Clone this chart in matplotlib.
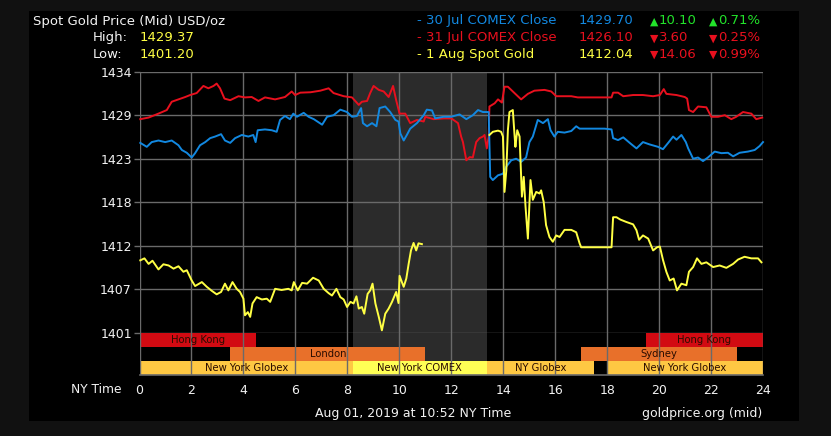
import matplotlib
matplotlib.use("Agg")
import matplotlib.pyplot as plt
from matplotlib.patches import Rectangle

# ---------------- data ----------------
red_h = [0.03, 0.35, 0.73, 1.05, 1.24, 1.5, 1.76, 1.95, 2.2, 2.46, 2.65, 2.85, 2.97, 3.1, 3.27, 3.49,
         3.81, 4.06, 4.32, 4.58, 4.83, 5.22, 5.6, 5.86, 5.99, 6.19, 6.58, 6.96, 7.28, 7.47, 7.86, 8.18,
         8.44, 8.56, 8.76, 8.88, 9.01, 9.21, 9.4, 9.59, 9.76, 9.88, 10.01, 10.23, 10.42, 10.68, 10.94,
         11.0, 11.32, 11.71, 12.0, 12.26, 12.38, 12.45, 12.58, 12.71, 12.83, 12.96, 13.09, 13.22, 13.28,
         13.37, 13.44, 13.47, 13.67, 13.8, 13.95, 14.05, 14.18, 14.37, 14.69, 14.95, 15.2, 15.59, 15.85,
         16.04, 16.36, 16.62, 16.87, 17.9, 18.17, 18.23, 18.42, 18.62, 19.0, 19.38, 19.77, 20.03, 20.18,
         20.28, 20.67, 20.99, 21.08, 21.15, 21.31, 21.5, 21.82, 22.01, 22.27, 22.53, 22.78, 22.97, 23.23,
         23.55, 23.74, 23.97]
red_p = [1428.2, 1428.4, 1428.9, 1429.35, 1430.4, 1430.7, 1431.0, 1431.25, 1431.5, 1432.4, 1432.1, 1432.4,
         1432.7, 1432.1, 1430.8, 1430.6, 1431.1, 1430.95, 1431.0, 1430.5, 1430.95, 1430.7, 1431.0, 1431.7,
         1431.25, 1431.55, 1431.6, 1431.8, 1432.1, 1431.5, 1431.1, 1430.95, 1430.0, 1430.4, 1430.5, 1431.5,
         1432.4, 1431.9, 1431.7, 1431.0, 1432.4, 1430.6, 1428.9, 1428.9, 1427.7, 1428.1, 1427.9, 1428.5,
         1428.2, 1428.3, 1428.3, 1427.7, 1426.0, 1425.3, 1423.0, 1423.4, 1423.35, 1425.3, 1425.8, 1426.0,
         1426.2, 1424.5, 1426.0, 1429.8, 1430.2, 1430.7, 1430.3, 1432.3, 1432.3, 1431.7, 1430.7, 1431.4,
         1431.8, 1431.9, 1431.7, 1431.1, 1431.1, 1431.1, 1430.95, 1430.95, 1430.95, 1431.55, 1431.55,
         1431.1, 1431.25, 1431.25, 1431.1, 1431.25, 1432.0, 1431.4, 1431.25, 1431.0, 1430.8, 1429.35,
         1429.1, 1429.8, 1429.7, 1428.5, 1428.5, 1428.7, 1428.2, 1428.5, 1429.1, 1428.9, 1428.2, 1428.4]

blue_h = [0.03, 0.28, 0.47, 0.73, 0.99, 1.24, 1.5, 1.63, 1.82, 2.01, 2.14, 2.33, 2.53, 2.72, 2.91, 3.14,
          3.29, 3.49, 3.68, 3.94, 4.19, 4.38, 4.47, 4.55, 4.83, 5.09, 5.28, 5.41, 5.6, 5.79, 5.92, 6.06,
          6.32, 6.51, 6.71, 7.03, 7.22, 7.47, 7.73, 7.99, 8.18, 8.37, 8.53, 8.6, 8.76, 8.95, 9.12, 9.24,
          9.46, 9.65, 9.85, 9.97, 10.04, 10.17, 10.29, 10.42, 10.68, 10.94, 11.06, 11.26, 11.38, 11.71,
          12.0, 12.32, 12.58, 12.83, 13.03, 13.22, 13.44, 13.5, 13.6, 13.8, 13.99, 14.12, 14.31, 14.5,
          14.69, 14.88, 15.01, 15.14, 15.33, 15.53, 15.72, 15.82, 15.97, 16.1, 16.36, 16.62, 16.81, 16.94,
          17.9, 18.17, 18.23, 18.42, 18.62, 18.87, 19.13, 19.38, 19.64, 19.96, 20.15, 20.35, 20.54, 20.67,
          20.86, 21.03, 21.12, 21.31, 21.5, 21.69, 21.88, 22.14, 22.4, 22.65, 22.85, 23.1, 23.42, 23.68,
          23.87, 24.0]
blue_p = [1425.2, 1424.7, 1425.3, 1425.5, 1425.3, 1425.5, 1424.9, 1424.3, 1423.95, 1423.35, 1423.9, 1424.9,
          1425.3, 1425.8, 1426.0, 1426.3, 1425.5, 1425.2, 1425.8, 1426.2, 1426.0, 1426.2, 1425.3, 1426.8,
          1426.9, 1426.8, 1426.6, 1428.1, 1428.6, 1428.2, 1428.9, 1428.5, 1429.0, 1428.5, 1428.2, 1427.5,
          1428.5, 1428.7, 1429.4, 1429.1, 1428.5, 1428.6, 1429.6, 1427.7, 1427.3, 1427.7, 1427.3, 1429.6,
          1429.8, 1429.1, 1428.1, 1427.9, 1426.4, 1425.5, 1426.2, 1427.0, 1427.7, 1428.7, 1429.4, 1429.3,
          1428.3, 1428.5, 1428.5, 1428.8, 1428.2, 1428.7, 1429.35, 1429.1, 1429.1, 1420.9, 1420.5, 1421.1,
          1421.3, 1422.2, 1423.0, 1423.2, 1422.8, 1423.35, 1425.3, 1426.0, 1428.1, 1427.7, 1428.2, 1426.8,
          1426.0, 1426.6, 1426.5, 1426.7, 1427.3, 1427.0, 1427.0, 1426.9, 1425.8, 1425.55, 1425.9, 1425.2,
          1424.5, 1425.3, 1425.0, 1424.7, 1424.4, 1425.2, 1426.0, 1425.6, 1426.2, 1425.3, 1424.5, 1423.2,
          1423.35, 1422.9, 1423.35, 1424.1, 1423.9, 1423.95, 1423.5, 1423.95, 1424.1, 1424.3, 1424.8, 1425.3]

yellow1_h = [0.03, 0.19, 0.35, 0.5, 0.73, 0.92, 1.12, 1.31, 1.5, 1.69, 1.82, 2.01, 2.14, 2.4, 2.59, 2.78,
             2.97, 3.14, 3.29, 3.42, 3.58, 3.74, 3.87, 4.0, 4.06, 4.17, 4.26, 4.35, 4.51, 4.71, 4.9, 5.03,
             5.22, 5.47, 5.73, 5.86, 5.94, 6.09, 6.26, 6.45, 6.68, 6.9, 7.09, 7.28, 7.41, 7.58, 7.73, 7.86,
             7.99, 8.12, 8.24, 8.35, 8.44, 8.56, 8.65, 8.78, 8.88, 8.97, 9.08, 9.21, 9.33, 9.46, 9.59, 9.72,
             9.88, 9.97, 10.01, 10.1, 10.17, 10.27, 10.36, 10.45, 10.55, 10.65, 10.74, 10.87]
yellow1_p = [1410.35, 1410.6, 1409.9, 1410.3, 1409.2, 1409.85, 1409.7, 1409.3, 1409.6, 1408.9, 1409.1,
             1407.8, 1407.1, 1407.6, 1407.0, 1406.5, 1406.05, 1406.35, 1407.4, 1406.55, 1407.6, 1406.75,
             1406.35, 1405.5, 1403.4, 1403.8, 1403.2, 1404.9, 1405.7, 1405.4, 1405.5, 1405.1, 1406.75,
             1406.6, 1406.75, 1406.55, 1407.6, 1406.55, 1407.5, 1407.4, 1408.15, 1407.8, 1406.75, 1406.2,
             1405.9, 1406.75, 1405.7, 1405.4, 1404.45, 1405.1, 1404.9, 1405.8, 1404.25, 1404.45, 1403.6,
             1406.1, 1406.55, 1407.4, 1404.9, 1403.2, 1401.5, 1403.6, 1404.25, 1405.1, 1406.35, 1404.95,
             1408.4, 1407.6, 1407.0, 1408.05, 1409.9, 1411.6, 1412.55, 1411.6, 1412.5, 1412.4]

yellow2_h = [13.47, 13.6, 13.8, 13.92, 13.99, 14.05, 14.12, 14.18, 14.24, 14.37, 14.44, 14.47, 14.54, 14.63,
             14.72, 14.79, 14.86, 14.95, 15.05, 15.14, 15.27, 15.4, 15.46, 15.56, 15.65, 15.78, 15.91, 16.04,
             16.17, 16.36, 16.62, 16.81, 16.94, 17.0, 17.9, 18.17, 18.23, 18.36, 18.51, 18.74, 19.0, 19.13,
             19.23, 19.38, 19.58, 19.77, 19.92, 20.03, 20.15, 20.28, 20.41, 20.56, 20.69, 20.86, 21.05,
             21.15, 21.31, 21.46, 21.63, 21.82, 22.08, 22.33, 22.59, 22.85, 23.04, 23.29, 23.55, 23.81, 23.94]
yellow2_p = [1426.2, 1426.6, 1426.75, 1426.6, 1426.0, 1419.0, 1421.75, 1426.8, 1429.1, 1429.35, 1426.0,
             1424.7, 1426.8, 1426.0, 1418.4, 1420.9, 1417.1, 1413.1, 1420.5, 1418.0, 1419.0, 1418.8, 1419.2,
             1417.7, 1414.8, 1413.3, 1412.7, 1413.5, 1413.3, 1414.2, 1414.2, 1413.9, 1412.5, 1412.0, 1412.0,
             1412.0, 1415.8, 1415.8, 1415.5, 1415.2, 1414.9, 1414.15, 1412.95, 1413.5, 1413.1, 1411.6, 1412.0,
             1412.1, 1410.4, 1408.9, 1407.8, 1408.05, 1406.55, 1407.4, 1407.2, 1408.9, 1409.5, 1410.6,
             1409.9, 1410.1, 1409.5, 1409.7, 1409.4, 1409.9, 1410.45, 1410.8, 1410.6, 1410.6, 1410.1]

y_ticks = [1401.2, 1406.7, 1412.2, 1417.7, 1423.2, 1428.7, 1434.2]
x_ticks = [0, 2, 4, 6, 8, 10, 12, 14, 16, 18, 20, 22, 24]

# sessions (row 2 = top)
session_labels = ["Hong Kong", "Hong Kong", "London", "Sydney",
                  "New York Globex", "New York COMEX", "NY Globex", "New York Globex"]
session_rows = [2, 2, 1, 1, 0, 0, 0, 0]
session_start = [0.0, 19.5, 3.5, 17.0, 0.0, 8.21, 13.37, 18.0]
session_end = [4.5, 24.0, 11.0, 23.0, 8.21, 13.37, 17.48, 24.0]
session_colors = ["#d20a12", "#d20a12", "#e8702a", "#e8702a",
                  "#fec843", "#ffff55", "#fec843", "#fec843"]
comex_span = (8.21, 13.37)

header_series = ["30 Jul COMEX Close", "31 Jul COMEX Close", "1 Aug Spot Gold"]
header_values = ["1429.70", "1426.10", "1412.04"]
header_up = [True, False, False]
header_change = ["10.10", "3.60", "14.06"]
header_pct = ["0.71%", "0.25%", "0.99%"]
high_value = "1429.37"
low_value = "1401.20"

# ---------------- style ----------------
W, H = 831, 436
RED = "#e8101e"
BLUE = "#1288e0"
YEL = "#ffff44"
GRN = "#22e22a"
GRID = "#6a6a6a"
TXT = "#f2f2f2"

fig = plt.figure(figsize=(W / 100, H / 100), dpi=100, facecolor="#111111")
fig.patches.append(Rectangle((29 / W, 1 - 421 / H), (799 - 29) / W, (421 - 11) / H,
                             transform=fig.transFigure, facecolor="black", edgecolor="none", zorder=-10))

def fx(px):
    return px / W

def fy(py):
    return 1 - py / H

x0, x1 = 139.5, 763.0
ytop, ymid, ybot = 71.7, 332.7, 375.0

ax = fig.add_axes([fx(x0), fy(ymid), (x1 - x0) / W, (ymid - ytop) / H])
ax2 = fig.add_axes([fx(x0), fy(ybot), (x1 - x0) / W, (ybot - ymid) / H])

for a in (ax, ax2):
    a.set_facecolor("none")
    a.set_xlim(0, 24)
    for s in a.spines.values():
        s.set_visible(False)
    a.axvspan(*comex_span, color="#2b2b2b", zorder=0, lw=0)

ax.set_ylim(y_ticks[0], y_ticks[-1])
ax.set_yticks(y_ticks)
ax.set_yticklabels([f"{v:.0f}" for v in y_ticks])
ax.set_xticks(x_ticks)
ax.tick_params(axis="x", length=0, labelbottom=False)
ax.tick_params(axis="y", length=4, width=1, color=GRID, colors=TXT, labelsize=9, pad=1.5)
ax.grid(True, color=GRID, lw=1, zorder=1)
for lbl in ax.get_yticklabels():
    lbl.set_color(TXT)

ax.plot(red_h, red_p, color=RED, lw=1.4, zorder=3, clip_on=False)
ax.plot(blue_h, blue_p, color=BLUE, lw=1.4, zorder=3, clip_on=False)
ax.plot(yellow1_h, yellow1_p, color=YEL, lw=1.4, zorder=4, clip_on=False)
ax.plot(yellow2_h, yellow2_p, color=YEL, lw=1.4, zorder=4, clip_on=False)

# session strip
ax2.set_ylim(0, 3)
ax2.barh(session_rows, [e - s for s, e in zip(session_start, session_end)], left=session_start,
         height=1, align="edge", color=session_colors, zorder=1, lw=0)
for lab, r, s, e in zip(session_labels, session_rows, session_start, session_end):
    ax2.text((s + e) / 2, r + 0.5, lab, ha="center", va="center", fontsize=7.2, color="#2a0c00", zorder=3)
ax2.set_xticks(x_ticks)
ax2.set_yticks([])
ax2.xaxis.grid(True, color=GRID, lw=1, zorder=2)
ax2.set_axisbelow(False)
ax2.axhline(0, color=GRID, lw=1.2, zorder=2, clip_on=False)
ax2.tick_params(axis="x", length=0, pad=6.5, colors=TXT, labelsize=9)

# header
fig.text(fx(33), fy(21), "Spot Gold Price (Mid) USD/oz", color=TXT, fontsize=9.5, va="center", ha="left")
fig.text(fx(93), fy(37.5), "High:", color=TXT, fontsize=9.5, va="center", ha="left")
fig.text(fx(93), fy(54), "Low:", color=TXT, fontsize=9.5, va="center", ha="left")
fig.text(fx(140), fy(37.5), high_value, color=YEL, fontsize=9.5, va="center", ha="left")
fig.text(fx(140), fy(54), low_value, color=YEL, fontsize=9.5, va="center", ha="left")

row_y = [20.7, 37.7, 54.2]
ser_colors = [BLUE, RED, YEL]
for i in range(3):
    c = ser_colors[i]
    fig.text(fx(416), fy(row_y[i]), "-", color=c, fontsize=9.5, va="center", ha="left")
    fig.text(fx(426.5), fy(row_y[i]), header_series[i], color=c, fontsize=9.5, va="center", ha="left")
    fig.text(fx(633), fy(row_y[i]), header_values[i], color=c, fontsize=9.5, va="center", ha="right")
    cc = GRN if header_up[i] else RED
    tri = "\u25b2" if header_up[i] else "\u25bc"
    fig.text(fx(649.5), fy(row_y[i] + 0.5), tri, color=cc, fontsize=7.8, va="center", ha="left")
    fig.text(fx(659), fy(row_y[i]), header_change[i], color=cc, fontsize=9.5, va="center", ha="left")
    fig.text(fx(708.5), fy(row_y[i] + 0.5), tri, color=cc, fontsize=7.8, va="center", ha="left")
    fig.text(fx(718), fy(row_y[i]), header_pct[i], color=cc, fontsize=9.5, va="center", ha="left")

# footer
fig.text(fx(121.5), fy(389), "NY Time", color=TXT, fontsize=8.8, va="center", ha="right")
fig.text(fx(314.7), fy(413), "Aug 01, 2019 at 10:52 NY Time", color=TXT, fontsize=9, va="center", ha="left")
fig.text(fx(762), fy(413), "goldprice.org (mid)", color=TXT, fontsize=9, va="center", ha="right")

fig.savefig("out.png", dpi=100, facecolor=fig.get_facecolor())
